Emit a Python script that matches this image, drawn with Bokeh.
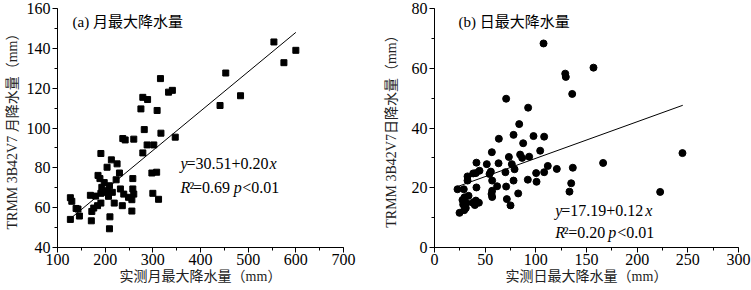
from bokeh.plotting import figure
from bokeh.layouts import row
from bokeh.models import Range1d, SingleIntervalTicker, Label
from bokeh.embed import file_html
from bokeh.resources import INLINE

# ---------------- data ----------------
# (a) monthly maximum precipitation: observed (x) vs TRMM (y), mm
mon_x = [554, 600, 575, 453, 484, 441, 316, 341, 333, 279, 289, 275, 309, 282, 317,
         347, 237, 242, 260, 288, 302, 279, 191, 213, 225, 204, 185, 189, 230, 223,
         258, 298, 308, 198, 193, 232, 258, 260, 209, 205, 201, 191, 169, 215, 207,
         239, 249, 256, 300, 312, 127, 130, 139, 143, 176, 172, 184, 191, 219, 236,
         256, 146, 127, 171, 210, 209, 180]
mon_y = [143.2, 139.0, 132.8, 127.6, 116.2, 111.3, 124.8, 118.9, 118.0, 115.4, 114.3,
         109.6, 108.8, 99.2, 97.4, 95.4, 94.7, 94.0, 94.4, 91.5, 91.5, 87.5, 87.2, 84.0,
         82.0, 80.3, 76.2, 74.6, 77.4, 74.0, 74.6, 77.4, 77.8, 72.6, 70.2, 69.4, 69.4,
         66.8, 71.0, 68.5, 67.7, 67.2, 66.2, 67.7, 65.7, 66.8, 65.2, 64.0, 67.2, 64.2,
         65.0, 63.2, 59.6, 59.3, 59.8, 58.1, 61.0, 62.3, 62.3, 61.0, 58.3, 55.8, 54.1,
         53.4, 55.4, 49.4, 65.8]
mon_fit_x = [127, 600]
mon_fit_y = [54.5, 148.0]
mon_title = "(a) 月最大降水量"
mon_xlabel = "实测月最大降水量（mm）"
mon_ylabel = "TRMM 3B42V7 月降水量（mm）"
mon_eq = ["y", "=30.51+0.20", "x"]
mon_r2 = ["R", "²", "=0.69", "p", "<0.01"]

# (b) daily maximum precipitation
day_x = [107.6, 156.9, 129.0, 129.6, 135.9, 70.7, 92.4, 83.6, 78.0, 97.7, 108.2, 63.5,
         87.5, 56.6, 104.3, 84.5, 93.4, 73.4, 86.5, 41.4, 63.2, 166.4, 51.6, 76.3, 111.8,
         136.5, 120.7, 79.0, 44.4, 55.6, 70.0, 108.2, 38.2, 40.8, 100.3, 54.3, 32.6, 32.6,
         56.9, 78.0, 92.1, 100.7, 134.9, 61.8, 70.7, 41.4, 22.7, 28.9, 56.9, 56.3, 56.9,
         33.6, 29.6, 82.6, 133.2, 222.7, 244.7, 71.4, 27.6, 40.8, 43.8, 37.8, 31.6, 28.3,
         39.8, 75.0, 30.9, 24.7, 29.3]
day_y = [68.3, 60.2, 58.2, 57.1, 51.4, 49.8, 46.8, 41.3, 37.7, 37.3, 37.1, 36.4, 34.9,
         31.9, 32.4, 31.1, 30.4, 30.3, 30.0, 28.4, 28.2, 28.3, 27.9, 27.9, 27.3, 26.7,
         26.3, 26.2, 25.7, 25.4, 25.2, 25.2, 24.8, 24.9, 24.9, 24.6, 23.8, 22.4, 22.4,
         22.4, 22.7, 22.0, 21.5, 20.5, 20.4, 20.1, 19.5, 19.5, 19.0, 17.9, 16.9, 17.3,
         16.8, 18.1, 18.7, 18.6, 31.6, 16.2, 15.9, 15.7, 15.0, 15.0, 14.9, 14.4, 14.2,
         14.1, 13.2, 11.6, 12.5]
day_fit_x = [22, 245]
day_fit_y = [20.3, 47.6]
day_title = "(b) 日最大降水量"
day_xlabel = "实测日最大降水量（mm）"
day_ylabel = "TRMM 3B42V7日降水量（mm）"
day_eq = ["y", "=17.19+0.12", "x"]
day_r2 = ["R", "²", "=0.20", "p", "<0.01"]

FONT = "'Liberation Serif', 'Noto Sans CJK SC'"
NUM_SIZE = "16px"
EQ_SIZE = "16px"
TITLE_SIZE = "15px"
XLAB_SIZE = "14px"
YLAB_SIZE = "14px"


def style_axes(p, xint, yint, ylab_standoff):
    p.xaxis.ticker = SingleIntervalTicker(interval=xint, num_minor_ticks=2)
    p.yaxis.ticker = SingleIntervalTicker(interval=yint, num_minor_ticks=2)
    for ax in (p.xaxis[0], p.yaxis[0]):
        ax.axis_line_color = "black"
        ax.axis_line_width = 1
        ax.major_tick_line_color = "black"
        ax.minor_tick_line_color = "black"
        ax.major_tick_in = 0
        ax.major_tick_out = 5
        ax.minor_tick_in = 0
        ax.minor_tick_out = 3
        ax.major_label_text_font = FONT
        ax.major_label_text_font_size = NUM_SIZE
        ax.major_label_text_color = "black"
        ax.axis_label_text_font = FONT
        ax.axis_label_text_font_style = "normal"
        ax.axis_label_text_color = "#222222"
    p.xaxis.axis_label_text_font_size = XLAB_SIZE
    p.yaxis.axis_label_text_font_size = YLAB_SIZE
    p.xaxis.major_label_standoff = 1
    p.xaxis.axis_label_standoff = 1
    p.yaxis.major_label_standoff = 2
    p.yaxis.axis_label_standoff = ylab_standoff
    p.xgrid.visible = False
    p.ygrid.visible = False
    p.outline_line_color = None


def add_text(p, x, y, txt, italic=False, size=EQ_SIZE):
    p.add_layout(Label(x=x, y=y, text=txt, text_font=FONT, text_font_size=size,
                       text_font_style="italic" if italic else "normal",
                       text_baseline="middle", text_align="left", text_color="black"))


# ---------------- (a) ----------------
p1 = figure(width=375, height=290, output_backend="svg", toolbar_location=None,
            x_range=Range1d(100, 700), y_range=Range1d(40, 160),
            min_border_left=57, min_border_right=32, min_border_top=8, min_border_bottom=43,
            x_axis_label=mon_xlabel, y_axis_label=mon_ylabel)
style_axes(p1, 100, 20, 4)
p1.scatter(mon_x, mon_y, marker="square", size=6, color="black")
p1.line(mon_fit_x, mon_fit_y, line_color="black", line_width=1)
add_text(p1, 131.5, 153.3, mon_title, size=TITLE_SIZE)
add_text(p1, 358, 82.0, mon_eq[0], italic=True)
add_text(p1, 370.5, 82.0, mon_eq[1])
add_text(p1, 545, 82.0, mon_eq[2], italic=True)
add_text(p1, 358, 70.2, mon_r2[0], italic=True)
add_text(p1, 376.9, 70.2, mon_r2[1])
add_text(p1, 384.2, 70.2, mon_r2[2])
add_text(p1, 470, 70.2, mon_r2[3], italic=True)
add_text(p1, 487.6, 70.2, mon_r2[4])

# ---------------- (b) ----------------
p2 = figure(width=376, height=290, output_backend="svg", toolbar_location=None,
            x_range=Range1d(0, 300), y_range=Range1d(0, 80),
            min_border_left=59, min_border_right=13, min_border_top=8, min_border_bottom=43,
            x_axis_label=day_xlabel, y_axis_label=day_ylabel)
style_axes(p2, 50, 20, 10)
p2.scatter(day_x, day_y, marker="circle", size=7, color="black")
p2.line(day_fit_x, day_fit_y, line_color="black", line_width=1)
add_text(p2, 23.7, 75.5, day_title, size=TITLE_SIZE)
add_text(p2, 119.1, 12.55, day_eq[0], italic=True)
add_text(p2, 125.0, 12.55, day_eq[1])
add_text(p2, 207.9, 12.55, day_eq[2], italic=True)
add_text(p2, 119.1, 5.03, day_r2[0], italic=True)
add_text(p2, 127.5, 5.03, day_r2[1])
add_text(p2, 131.9, 5.03, day_r2[2])
add_text(p2, 171.4, 5.03, day_r2[3], italic=True)
add_text(p2, 180.3, 5.03, day_r2[4])

layout = row(p1, p2, spacing=0)
open("out.html", "w").write(file_html(layout, INLINE))
